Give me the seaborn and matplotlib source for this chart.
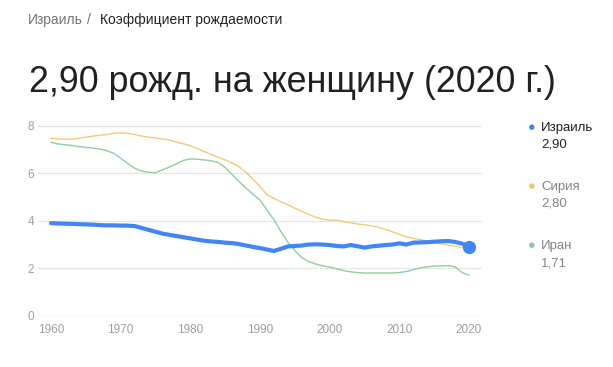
import numpy as np
import pandas as pd
import matplotlib
matplotlib.use("Agg")
import matplotlib.pyplot as plt
import seaborn as sns

years = list(range(1960, 2021))
israel = [3.90, 3.89, 3.88, 3.87, 3.86, 3.85, 3.84, 3.82, 3.81, 3.81,
          3.80, 3.80, 3.78, 3.70, 3.62, 3.54, 3.46, 3.41, 3.36, 3.31,
          3.26, 3.21, 3.16, 3.13, 3.11, 3.08, 3.06, 3.02, 2.96, 2.90,
          2.85, 2.79, 2.73, 2.82, 2.92, 2.94, 2.96, 3.00, 3.01, 3.00,
          2.98, 2.94, 2.92, 2.98, 2.93, 2.87, 2.92, 2.95, 2.98, 3.00,
          3.05, 3.00, 3.08, 3.09, 3.10, 3.12, 3.14, 3.15, 3.11, 3.04,
          2.90]
syria = [7.48, 7.45, 7.44, 7.45, 7.48, 7.53, 7.57, 7.61, 7.64, 7.69,
         7.71, 7.69, 7.64, 7.58, 7.53, 7.49, 7.45, 7.41, 7.32, 7.25,
         7.17, 7.05, 6.92, 6.80, 6.68, 6.57, 6.44, 6.28, 6.05, 5.75,
         5.45, 5.10, 4.95, 4.80, 4.68, 4.54, 4.40, 4.27, 4.15, 4.07,
         4.03, 4.03, 3.97, 3.92, 3.87, 3.83, 3.79, 3.73, 3.64, 3.54,
         3.43, 3.33, 3.26, 3.21, 3.14, 3.09, 3.03, 2.98, 2.93, 2.87,
         2.80]
iran = [7.31, 7.24, 7.21, 7.18, 7.13, 7.10, 7.07, 7.03, 6.96, 6.85,
        6.64, 6.42, 6.22, 6.10, 6.05, 6.03, 6.15, 6.27, 6.40, 6.55,
        6.61, 6.60, 6.57, 6.53, 6.46, 6.25, 5.95, 5.65, 5.38, 5.12,
        4.88, 4.45, 4.05, 3.55, 3.10, 2.75, 2.45, 2.28, 2.18, 2.10,
        2.05, 1.98, 1.90, 1.85, 1.82, 1.80, 1.80, 1.80, 1.80, 1.80,
        1.82, 1.86, 1.94, 2.01, 2.06, 2.09, 2.10, 2.11, 2.06, 1.82,
        1.71]

countries = ["Израиль", "Сирия", "Иран"]
last_labels = ["2,90", "2,80", "1,71"]
x_ticks = [1960, 1970, 1980, 1990, 2000, 2010, 2020]
y_ticks = [0, 2, 4, 6, 8]
breadcrumb_country = "Израиль"
breadcrumb_topic = "Коэффициент рождаемости"
headline = "2,90 рожд. на женщину (2020 г.)"

colors = {"Израиль": "#4285f4", "Сирия": "#f6c978", "Иран": "#8fcf9f"}
dot_colors = {"Израиль": "#4285f4", "Сирия": "#f5c36e", "Иран": "#86cb98"}
widths = {"Израиль": 3.0, "Сирия": 1.0, "Иран": 1.0}

df = pd.DataFrame({"year": years * 3,
                   "value": syria + iran + israel,
                   "country": ["Сирия"] * len(years) + ["Иран"] * len(years) + ["Израиль"] * len(years)})

sns.set_theme(style="white")
plt.rcParams["font.family"] = ["Liberation Sans", "DejaVu Sans"]

fig = plt.figure(figsize=(6.13, 3.67), dpi=100)
ax = fig.add_axes([38 / 613, 1 - 315.7 / 367, (482 - 38) / 613, (315.7 - 124.8) / 367])

for c in ["Сирия", "Иран", "Израиль"]:
    sub = df[df["country"] == c]
    sns.lineplot(data=sub, x="year", y="value", ax=ax, color=colors[c],
                 linewidth=widths[c], legend=False, zorder=3 if c == "Израиль" else 2)

ax.plot([years[-1]], [israel[-1]], "o", color="#4285f4", markersize=8.5, zorder=4)

ax.set_xlim(1958.13, 2021.87)
ax.set_ylim(0, 8.05)
ax.set_xticks(x_ticks)
ax.set_yticks(y_ticks)
ax.set_xlabel("")
ax.set_ylabel("")
for y in y_ticks:
    ax.axhline(y, color="#e6e6e6" if y else "#dcdcdc", linewidth=1, zorder=1)
for s in ax.spines.values():
    s.set_visible(False)
ax.tick_params(axis="x", colors="#d0d0d0", length=5, width=1, direction="out",
               labelcolor="#9e9e9e", labelsize=8.5, pad=1)
ax.tick_params(axis="y", length=0, labelcolor="#9e9e9e", labelsize=8.5, pad=3)

fig.text(28 / 613, 1 - 24 / 367, breadcrumb_country, fontsize=10, color="#70757a", va="baseline")
fig.text(89 / 613, 1 - 24 / 367, "/", fontsize=10, color="#70757a", va="baseline", ha="center")
fig.text(100 / 613, 1 - 24 / 367, breadcrumb_topic, fontsize=10, color="#202124", va="baseline")
fig.text(29 / 613, 1 - 91.7 / 367, headline, fontsize=25.8, color="#202124", va="baseline")

leg_y = [127, 186, 245]
text_colors = ["#202124", "#80868b", "#80868b"]
for c, lab, yy, tc in zip(countries, last_labels, leg_y, text_colors):
    fig.text(531.5 / 613, 1 - (yy + 1) / 367, "●", fontsize=9, color=dot_colors[c], va="center", ha="center")
    fig.text(541 / 613, 1 - (yy + 1) / 367, c, fontsize=9.5, color=tc, va="center")
    fig.text(541 / 613, 1 - (yy + 18) / 367, lab, fontsize=9.5, color=tc, va="center")

fig.savefig("out.png", dpi=100, facecolor="white")
